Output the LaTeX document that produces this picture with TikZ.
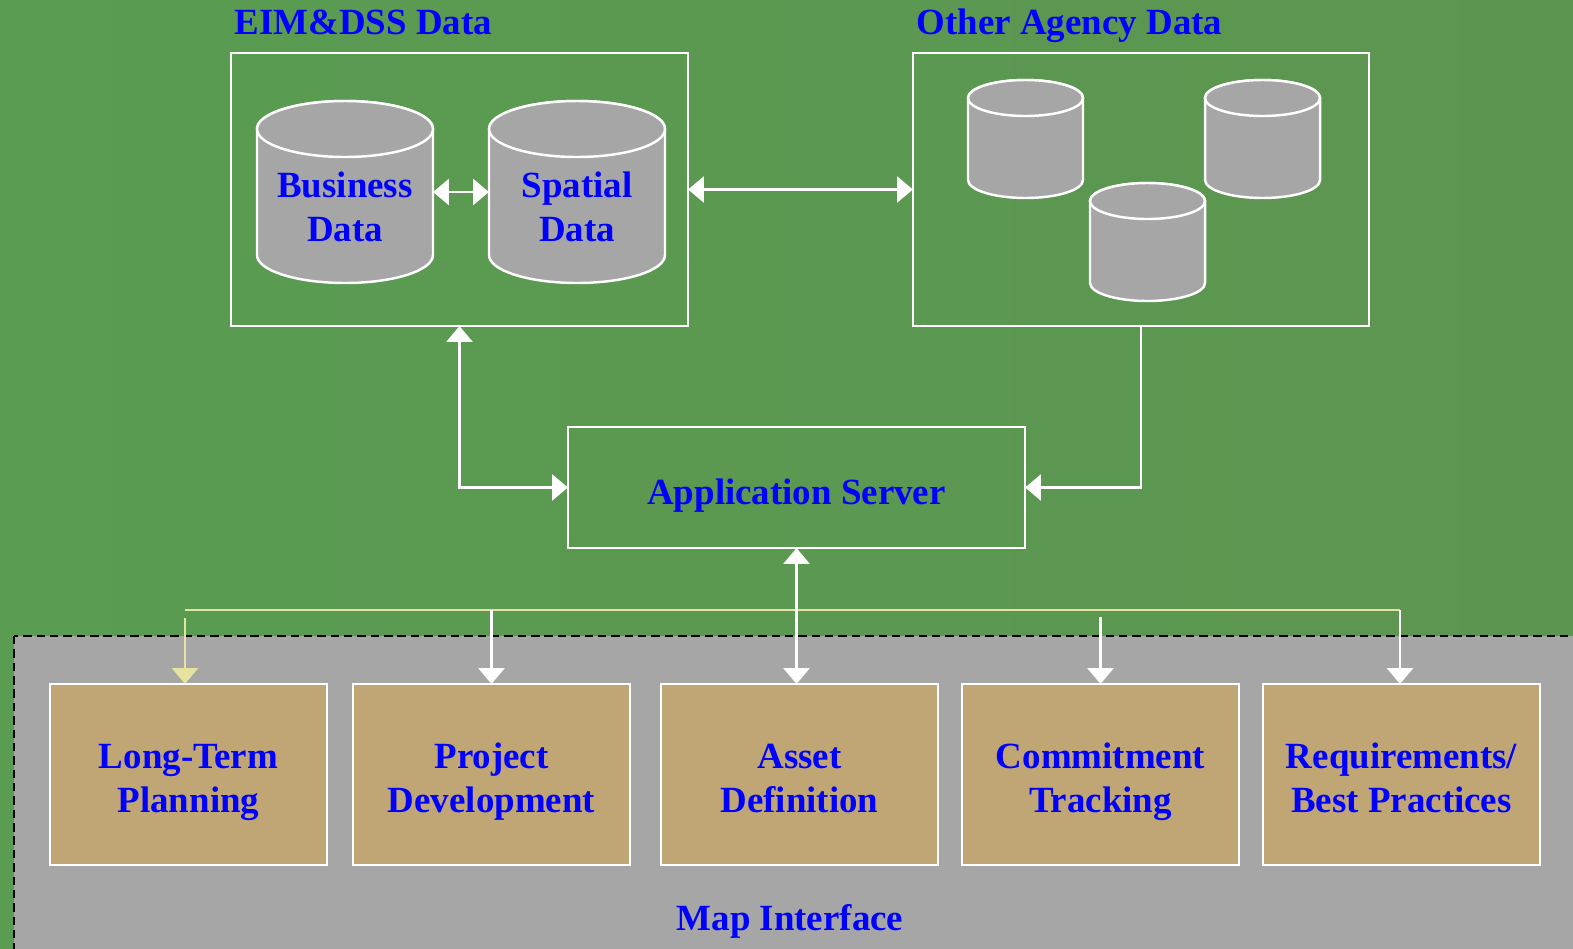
\documentclass[tikz,border=0pt]{standalone}
\usepackage{fontspec}
\setmainfont{Liberation Serif}
\usetikzlibrary{arrows.meta}

\definecolor{greenleft}{RGB}{90,156,82}
\definecolor{greenmid}{RGB}{94,168,86}
\definecolor{greenright}{RGB}{92,149,80}
\definecolor{panelgray}{RGB}{166,166,166}
\definecolor{tanbox}{RGB}{192,166,116}
\definecolor{busyellow}{RGB}{230,226,160}
\definecolor{textblue}{RGB}{0,0,255}

% strut for the first line of a box text
\newcommand{\topstrut}{\rule[-3.75pt]{0pt}{16.7pt}}

% cylinder: name, x, y (centre), x radius, y radius, half body height, text
\newcommand{\datacyl}[7]{%
  \filldraw[cyl] ({#2-#4},{#3+#6}) -- ({#2-#4},{#3-#6})
    arc[start angle=180, end angle=360, x radius=#4, y radius=#5]
    -- ({#2+#4},{#3+#6})
    arc[start angle=0, end angle=180, x radius=#4, y radius=#5] -- cycle;
  \draw[cyl] (#2,{#3+#6}) ellipse[x radius=#4, y radius=#5];
  \node[inner sep=0pt, outer sep=0pt, minimum width={0.02cm*#4},
        minimum height={0.02cm*(#6+#5)}] (#1) at (#2,#3) {};
  \node[align=center] at (#2,{#3-15}) {#7};
}

\begin{document}
\begin{tikzpicture}[x=0.01cm, y=0.01cm,
    font=\fontsize{10.5}{12.5}\selectfont\bfseries,
    every node/.style={text=textblue},
    frame/.style={draw=white, line width=0.7pt, inner sep=0pt, outer sep=0pt},
    task/.style={frame, fill=tanbox, minimum width=2.77cm, minimum height=1.81cm, align=center},
    cyl/.style={draw=white, fill=panelgray, line width=0.7pt},
    link/.style={draw=white, line width=0.7pt, -{Triangle[width=7.4pt,length=4.5pt]}},
    twoway/.style={link, {Triangle[width=7.4pt,length=4.5pt]}-{Triangle[width=7.4pt,length=4.5pt]}},
    bus/.style={draw=busyellow, line width=0.7pt}]

    % Fondo de la diapositiva
    \useasboundingbox (0,0) rectangle (1573,-948);
    \shade[left color=greenleft, middle color=greenmid, right color=greenright] (0,0) rectangle (1573,-948);

    % Zona gris de la interfaz de mapa
    \begin{scope}
      \clip (0,0) rectangle (1573,-948);
      \draw[fill=panelgray, line width=0.6pt, dash pattern=on 2.4pt off 1.4pt] (14,-636) rectangle (1650,-1020);
    \end{scope}
    \node[anchor=base] (mapif) at (790,-930) {Map Interface};

    % Cajas de datos
    \node[frame, minimum width=4.57cm, minimum height=2.73cm] (eim) at (459.5,-189.5) {};
    \node[frame, minimum width=4.56cm, minimum height=2.73cm] (other) at (1141,-189.5) {};
    \node[anchor=base west, inner sep=0pt] (eimtitle) at (234,-34) {EIM\&DSS Data};
    \node[anchor=base west, inner sep=0pt] (othertitle) at (916,-34) {Other Agency Data};

    % Bases de datos
    \datacyl{business}{345}{-192}{88}{28}{63}{Business\\Data}
    \datacyl{spatial}{577}{-192}{88}{28}{63}{Spatial\\Data}
    \datacyl{agencyA}{1025.5}{-139}{57.5}{18}{41}{}
    \datacyl{agencyB}{1262.5}{-139}{57.5}{18}{41}{}
    \datacyl{agencyC}{1147.5}{-242}{57.5}{18}{41}{}

    % Servidor de aplicaciones
    \node[frame, minimum width=4.57cm, minimum height=1.21cm, text height=11.5pt, text depth=1.7pt] (app) at (796.5,-487.5) {Application Server};

    % Aplicaciones
    \node[task] (ltp) at (188.5,-774.5) {\topstrut Long-Term\\\strut Planning};
    \node[task] (projdev) at (491.5,-774.5) {\topstrut Project\\\strut Development};
    \node[task] (asset) at (799.5,-774.5) {\topstrut Asset\\\strut Definition};
    \node[task] (commit) at (1100.5,-774.5) {\topstrut Commitment\\\strut Tracking};
    \node[task] (reqs) at (1401.5,-774.5) {\topstrut Requirements/\\\strut Best Practices};

    % Linea de reparto
    \coordinate (busL) at (185,-610);
    \coordinate (busR) at (1400,-610);
    \draw[bus] (busL) -- (busR);
    \draw[bus, -{Triangle[width=7.4pt,length=4.5pt]}] ([yshift=-0.08cm]busL) -- (busL |- ltp.north);
    \draw[link] (projdev.north |- busL) -- (projdev.north);
    \draw[link] ([yshift=-0.07cm]busL -| commit.north) -- (commit.north);
    \draw[link] (busR) -- (busR |- reqs.north);

    % Conexiones
    \draw[twoway] (business.east) -- (spatial.west);
    \draw[twoway] (eim.east) -- (other.west);
    \draw[twoway] (eim.south) |- (app.west);
    \draw[link] (other.south) |- (app.east);
    \draw[twoway] (app.south) -- (app.south |- asset.north);
\end{tikzpicture}
\end{document}
